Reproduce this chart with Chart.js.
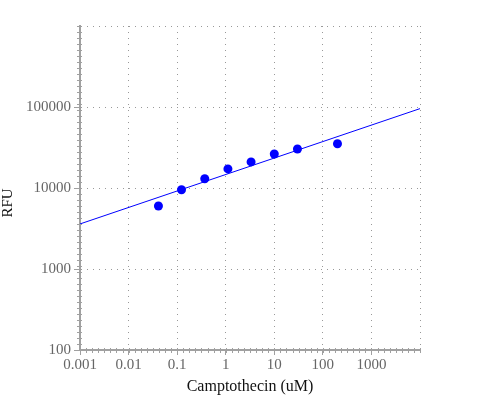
<!DOCTYPE html>
<html>
<head>
<meta charset="utf-8">
<script src="https://cdn.jsdelivr.net/npm/chart.js@4"></script>
<style>
  html, body { margin: 0; padding: 0; background: #fff; }
  #wrap { width: 500px; height: 400px; }
</style>
</head>
<body>
<div id="wrap"><canvas id="doseChart" width="500" height="400"></canvas></div>
<script>
// camptothecin dose (uM) and measured signal
const doseUM = [0.0412, 0.123, 0.37, 1.11, 3.33, 10, 30, 200];
const rfu = [6000, 9500, 13000, 17200, 21000, 26300, 30300, 35200];

// fitted line, drawn end to end across the x range
const fitDose = [0.001, 10000];
const fitRfu = [3600, 95500];

const xTicks = [0.001, 0.01, 0.1, 1, 10, 100, 1000, 10000];
const xTickLabels = ['0.001', '0.01', '0.1', '1', '10', '100', '1000', ''];
const yTicks = [100, 1000, 10000, 100000, 1000000];
const yTickLabels = ['100', '1000', '10000', '100000', ''];

const axisGray = '#a0a0a0';

// small evenly spaced ticks along both axes
const minorTicks = {
    id: 'minorTicks',
    afterDraw(chart) {
        const ctx = chart.ctx;
        const xs = chart.scales.x, ys = chart.scales.y;
        ctx.save();
        ctx.strokeStyle = axisGray;
        ctx.lineWidth = 1;
        ctx.beginPath();
        for (let e = -3; e <= 4.001; e += 1 / 8) {
            const px = Math.round(xs.getPixelForValue(Math.pow(10, e))) + 0.5;
            ctx.moveTo(px, ys.bottom - 2);
            ctx.lineTo(px, ys.bottom + 3);
        }
        for (let e = 2; e <= 6.001; e += 1 / 13.5) {
            const py = Math.round(ys.getPixelForValue(Math.pow(10, e))) + 0.5;
            ctx.moveTo(xs.left - 3, py);
            ctx.lineTo(xs.left + 2, py);
        }
        ctx.stroke();
        ctx.restore();
    }
};

const ctx = document.getElementById('doseChart').getContext('2d');

new Chart(ctx, {
    type: 'scatter',
    data: {
        datasets: [{
            label: 'fit',
            type: 'line',
            data: fitDose.map((d, i) => ({ x: d, y: fitRfu[i] })),
            borderColor: '#0000ff',
            borderWidth: 1,
            pointRadius: 0,
            fill: false
        }, {
            label: 'RFU',
            data: doseUM.map((d, i) => ({ x: d, y: rfu[i] })),
            backgroundColor: '#0000ff',
            borderColor: '#0000ff',
            pointRadius: 4.5,
            borderWidth: 0
        }]
    },
    options: {
        responsive: false,
        animation: false,
        layout: { padding: { left: 0, right: 80, top: 26, bottom: 0 } },
        plugins: { legend: { display: false }, tooltip: { enabled: false } },
        scales: {
            x: {
                type: 'logarithmic',
                min: 0.001,
                max: 10000,
                afterBuildTicks: scale => { scale.ticks = xTicks.map(v => ({ value: v })); },
                afterFit: scale => { scale.height = 50; },
                ticks: {
                    autoSkip: false,
                    maxRotation: 0,
                    padding: 1,
                    color: '#666',
                    font: { family: '"Liberation Serif", "Times New Roman", serif', size: 15 },
                    callback: (v, i) => xTickLabels[i]
                },
                grid: {
                    color: '#999',
                    tickColor: c => (xTickLabels[c.index] === '' ? 'rgba(0,0,0,0)' : axisGray),
                    tickLength: 5,
                    lineWidth: 1
                },
                border: { color: axisGray, width: 2, dash: [1, 5] },
                title: {
                    display: true,
                    text: 'Camptothecin (uM)',
                    color: '#111',
                    font: { family: '"Liberation Serif", "Times New Roman", serif', size: 16 },
                    padding: { top: 0, bottom: 4 }
                }
            },
            y: {
                type: 'logarithmic',
                min: 100,
                max: 1000000,
                afterBuildTicks: scale => { scale.ticks = yTicks.map(v => ({ value: v })); },
                afterFit: scale => { scale.width = 80; },
                ticks: {
                    autoSkip: false,
                    padding: 3,
                    color: '#666',
                    font: { family: '"Liberation Serif", "Times New Roman", serif', size: 15 },
                    callback: (v, i) => yTickLabels[i]
                },
                grid: {
                    color: '#999',
                    tickColor: c => (yTickLabels[c.index] === '' ? 'rgba(0,0,0,0)' : axisGray),
                    tickLength: 6,
                    lineWidth: 1
                },
                border: { color: axisGray, width: 2, dash: [1, 5] },
                title: {
                    display: true,
                    text: 'RFU        ',
                    color: '#111',
                    font: { family: '"Liberation Serif", "Times New Roman", serif', size: 15, lineHeight: 1.1 },
                    padding: 0
                }
            }
        }
    },
    plugins: [minorTicks]
});
</script>
</body>
</html>
